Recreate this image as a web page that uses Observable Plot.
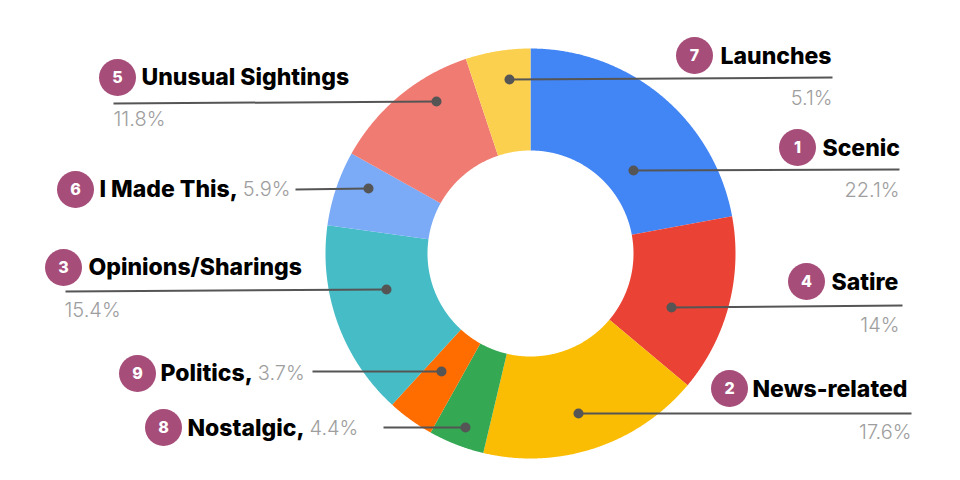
<!DOCTYPE html>
<html>
<head>
<meta charset="utf-8">
<script src="https://cdn.jsdelivr.net/npm/d3@7"></script>
<script src="https://cdn.jsdelivr.net/npm/@observablehq/plot@0.6"></script>
<style>
  html, body { margin: 0; padding: 0; background: #fff; }
  #chart svg { display: block; }
</style>
</head>
<body>
<div id="chart"></div>
<script>
// ---- data (clockwise from 12 o'clock) ----
const categories = ["Scenic", "Satire", "News-related", "Nostalgic", "Politics", "Opinions/Sharings", "I Made This", "Unusual Sightings", "Launches"];
const shares = [22.1, 14, 17.6, 4.4, 3.7, 15.4, 5.9, 11.8, 5.1];
const ranks = [1, 4, 2, 8, 9, 3, 6, 5, 7];

// ---- styles ----
const palette = ["#4285F4", "#EA4335", "#FBBC04", "#34A853", "#FF6D01", "#46BDC6", "#7BAAF7", "#F07B72", "#FCD04F"];
const FONT = "Inter, 'Open Sans', sans-serif";
const LABEL_SIZE = 23;
const LABEL_WEIGHT = 800;
const PCT_SIZE = 20;

// ---- layout (pixel positions of the donut and the callouts) ----
const donut = {cx: 530, cy: 253, outer: 205, inner: 103};
// pct: "right" = right-aligned under line end, "left" = left-aligned under line start, "inline" = after label
const layout = {
  "Scenic":            {bx: 797, by: 147, tx: 822, ty: 148, l1: [633, 170], l2: [899, 169], pct: "right", px: 899, py: 190},
  "Satire":            {bx: 806, by: 281, tx: 831, ty: 282, l1: [671, 307], l2: [902, 305], pct: "right", px: 899, py: 325},
  "News-related":      {bx: 729, by: 388, tx: 752, ty: 389, l1: [578, 413], l2: [911, 413], pct: "right", px: 911, py: 432},
  "Nostalgic":         {bx: 163, by: 427, tx: 187, ty: 428, l1: [465, 427], l2: [383, 427], pct: "inline"},
  "Politics":          {bx: 137, by: 373, tx: 160, ty: 373, l1: [441, 371], l2: [312, 371], pct: "inline"},
  "Opinions/Sharings": {bx: 63,  by: 267, tx: 88,  ty: 267, l1: [386, 289], l2: [65, 291],  pct: "left", px: 64, py: 310},
  "I Made This":       {bx: 75,  by: 189, tx: 99,  ty: 189, l1: [368, 188], l2: [295, 189], pct: "inline"},
  "Unusual Sightings": {bx: 117, by: 77,  tx: 141, ty: 77,  l1: [436, 101], l2: [113, 103], pct: "left", px: 113, py: 119},
  "Launches":          {bx: 694, by: 55,  tx: 720, ty: 56,  l1: [509, 79],  l2: [832, 77],  pct: "right", px: 832, py: 98}
};

// ---- derived slices from data ----
const arcs = d3.pie().sort(null).value(d => d)(shares);
const slicePts = [];
arcs.forEach((a, i) => {
  const n = Math.max(10, Math.ceil((a.endAngle - a.startAngle) / 0.005));
  for (let k = 0; k <= n; k++) {
    const t = a.startAngle + (a.endAngle - a.startAngle) * k / n;
    slicePts.push({cat: categories[i], x: donut.cx + donut.outer * Math.sin(t), y: donut.cy - donut.outer * Math.cos(t)});
  }
  for (let k = n; k >= 0; k--) {
    const t = a.startAngle + (a.endAngle - a.startAngle) * k / n;
    slicePts.push({cat: categories[i], x: donut.cx + donut.inner * Math.sin(t), y: donut.cy - donut.inner * Math.cos(t)});
  }
});

// measure text for inline percentages
const ctx = document.createElement("canvas").getContext("2d");
function textWidth(str, weight, size) {
  ctx.font = `${weight} ${size}px ${FONT}`;
  return ctx.measureText(str).width;
}

const rows = categories.map((c, i) => {
  const L = layout[c];
  const label = L.pct === "inline" ? c + "," : c;
  const pctText = String(shares[i]) + "%";
  const row = {cat: c, rank: String(ranks[i]), label, pctText, ...L,
    x1: L.l1[0], y1: L.l1[1], x2: L.l2[0], y2: L.l2[1]};
  if (L.pct === "inline") {
    row.px = L.tx + textWidth(label, LABEL_WEIGHT, LABEL_SIZE) + 5;
    row.py = L.ty;
  }
  return row;
});

const chart = Plot.plot({
  width: 960,
  height: 480,
  margin: 0,
  x: {domain: [0, 960], range: [0, 960], axis: null},
  y: {domain: [0, 480], range: [0, 480], axis: null},
  color: {type: "ordinal", domain: categories, range: palette},
  style: {background: "#fff"},
  marks: [
    Plot.line(slicePts, {x: "x", y: "y", z: "cat", fill: "cat", stroke: null, curve: "linear"}),
    Plot.link(rows, {x1: "x1", y1: "y1", x2: "x2", y2: "y2", stroke: "#555", strokeWidth: 2}),
    Plot.dot(rows, {x: "x1", y: "y1", r: 5, fill: "#555", stroke: null}),
    Plot.dot(rows, {x: "bx", y: "by", r: 18.5, fill: "#A64D79", stroke: null}),
    Plot.text(rows, {x: "bx", y: "by", text: "rank", fill: "#fff", fontSize: 16, fontWeight: 800, fontFamily: FONT, textAnchor: "middle"}),
    Plot.text(rows, {x: "tx", y: "ty", text: "label", fill: "#000", fontSize: LABEL_SIZE, fontWeight: LABEL_WEIGHT, fontFamily: FONT, textAnchor: "start"}),
    Plot.text(rows.filter(d => d.pct === "right"), {x: "px", y: "py", text: "pctText", fill: "#9E9E9E", fontSize: PCT_SIZE, fontWeight: 300, fontFamily: FONT, textAnchor: "end"}),
    Plot.text(rows.filter(d => d.pct === "left"), {x: "px", y: "py", text: "pctText", fill: "#9E9E9E", fontSize: PCT_SIZE, fontWeight: 300, fontFamily: FONT, textAnchor: "start"}),
    Plot.text(rows.filter(d => d.pct === "inline"), {x: "px", y: "py", text: "pctText", fill: "#9E9E9E", fontSize: PCT_SIZE, fontWeight: 300, fontFamily: FONT, textAnchor: "start"})
  ]
});
document.getElementById("chart").appendChild(chart);
</script>
</body>
</html>
